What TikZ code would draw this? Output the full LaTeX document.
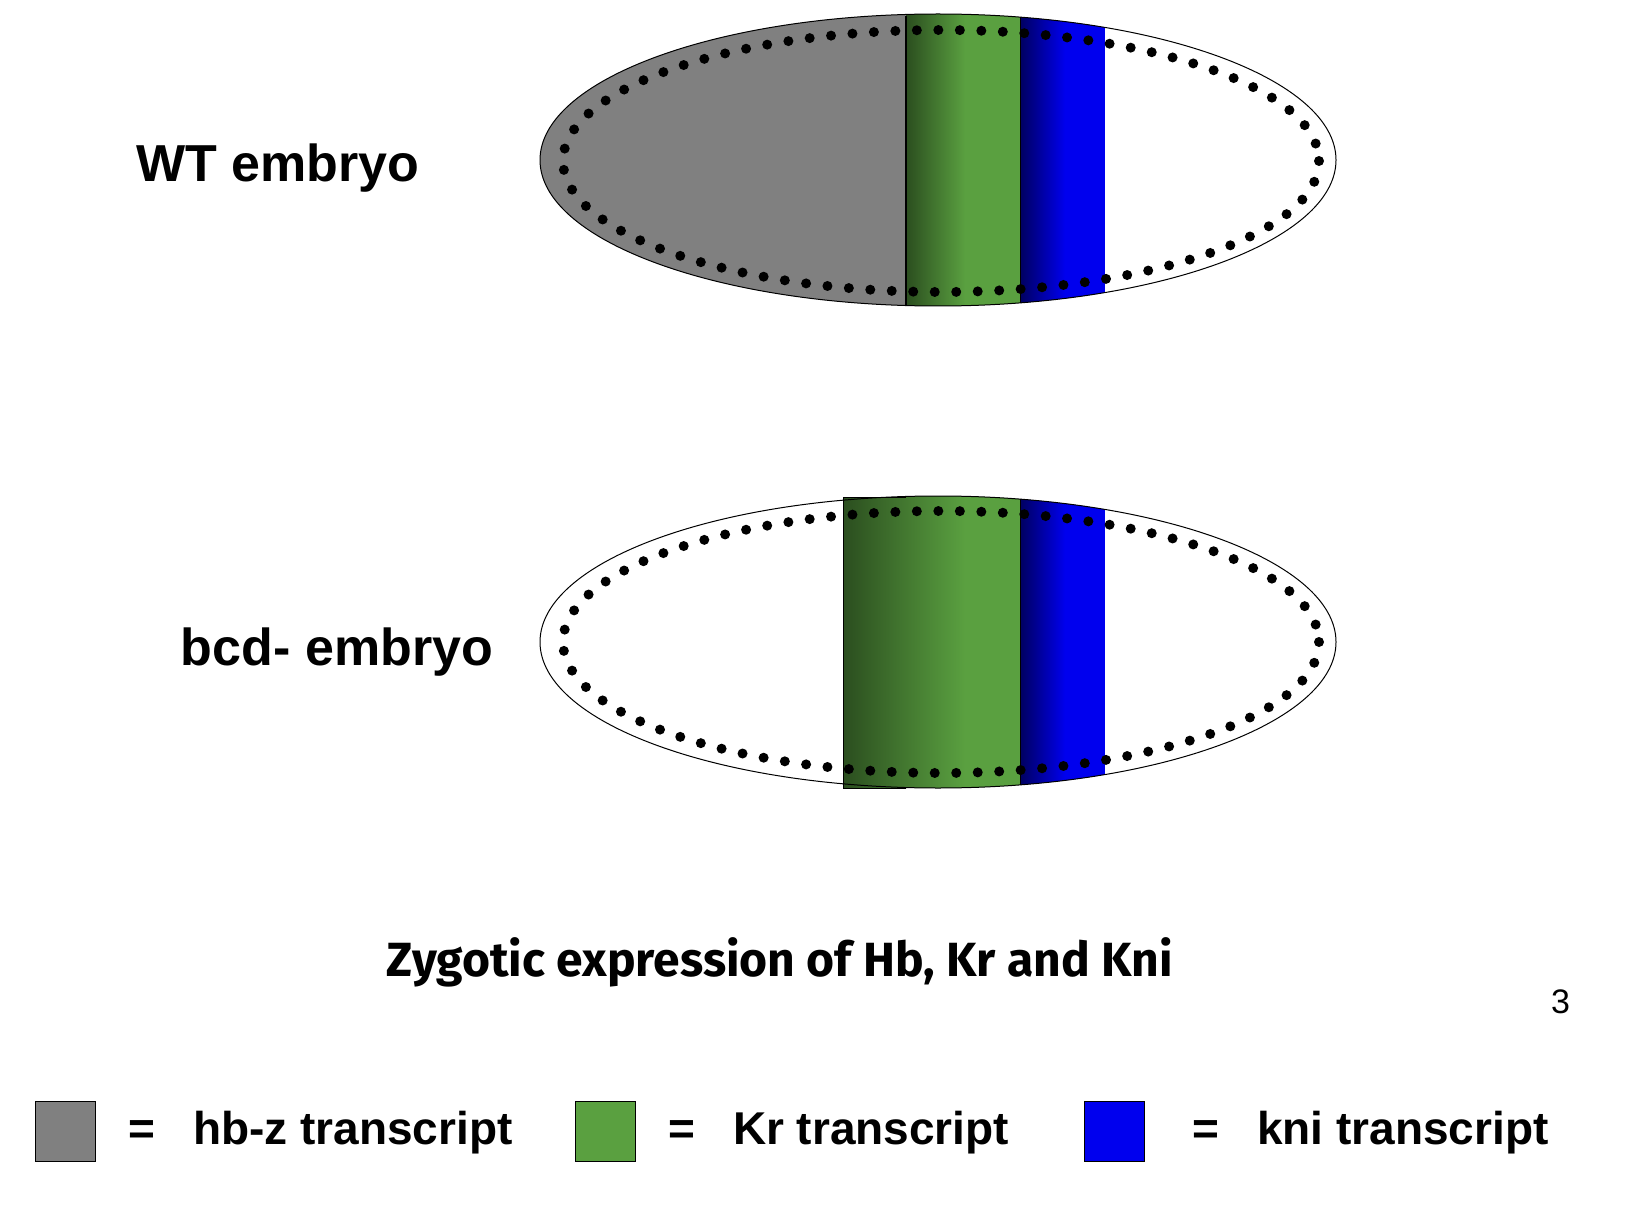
\documentclass[tikz,border=0pt]{standalone}
\usepackage{fontspec}
\setmainfont{Liberation Sans}
\newfontfamily\titlefont{Fira Sans}
\begin{document}
\begin{tikzpicture}[x=1pt,y=-1pt]
\definecolor{gr}{HTML}{808080}
\definecolor{kg}{HTML}{5AA040}
\definecolor{dkg}{HTML}{2B4E1F}
\definecolor{kb}{HTML}{0000EE}
\definecolor{dkb}{HTML}{000060}
\colorlet{midg}{kg!52!dkg}
\tikzset{lab/.style={font=\bfseries\fontsize{52}{60}\selectfont,inner sep=0},
 leg/.style={font=\bfseries\fontsize{46}{52}\selectfont,inner sep=0,anchor=west},
 dots/.style={line width=10pt,dash pattern=on 0pt off 21.5pt,line cap=round},
 sq/.style={draw=black,line width=1pt,minimum width=60pt,minimum height=60pt,inner sep=0}}
\useasboundingbox (0,0) rectangle (1632,1230);
% top embryo
\begin{scope}
\clip (938,160) ellipse [x radius=398,y radius=146];
\fill[gr] (500,0) rectangle (906,320);
\shade[left color=dkg,right color=kg] (906,0) rectangle (965,320);
\fill[kg] (965,0) rectangle (1020,320);
\shade[left color=dkb,right color=kb] (1020,0) rectangle (1065,320);
\fill[kb] (1065,0) rectangle (1105,320);
\draw[line width=1pt] (1020,0) -- (1020,320);
\end{scope}
\draw[line width=1.5pt] (906,16) -- (906,306);
\draw[line width=1pt] (938,160) ellipse [x radius=398,y radius=146];
\draw[dots] (941,161) ellipse [x radius=378,y radius=131];
\node[lab] (wt) at (278,168) {WT embryo};
% bottom embryo
\shade[left color=dkg,right color=midg] (843,497) rectangle (906,788);
\begin{scope}
\clip (938,642) ellipse [x radius=398,y radius=146];
\shade[left color=midg,right color=kg] (906,480) rectangle (965,800);
\fill[kg] (965,480) rectangle (1020,800);
\shade[left color=dkb,right color=kb] (1020,480) rectangle (1065,800);
\fill[kb] (1065,480) rectangle (1105,800);
\draw[line width=1pt] (1020,480) -- (1020,800);
\end{scope}
\draw[line width=1pt] (906,497) -- (843,497) -- (843,788) -- (906,788);
\draw[line width=1pt] (938,642) ellipse [x radius=398,y radius=146];
\draw[dots] (941,642) ellipse [x radius=378,y radius=131];
\node[lab] (bcd) at (337,652) {bcd- embryo};
% title
\node[font=\titlefont\bfseries\fontsize{48}{58}\selectfont,inner sep=0] (title) at (780,962) {Zygotic expression of Hb, Kr and Kni};
\node[font=\fontsize{34}{40}\selectfont,inner sep=0,anchor=west] (num) at (1551,1002) {3};
% legend
\node[sq,fill=gr] (s1) at (65,1131) {};
\node[leg] (t1) at (128,1133) {=\hspace{38pt}hb-z transcript};
\node[sq,fill=kg] (s2) at (605,1131) {};
\node[leg] (t2) at (668,1133) {=\hspace{38pt}Kr transcript};
\node[sq,fill=kb] (s3) at (1114,1131) {};
\node[leg] (t3) at (1192,1133) {=\hspace{38pt}kni transcript};
\end{tikzpicture}
\end{document}
